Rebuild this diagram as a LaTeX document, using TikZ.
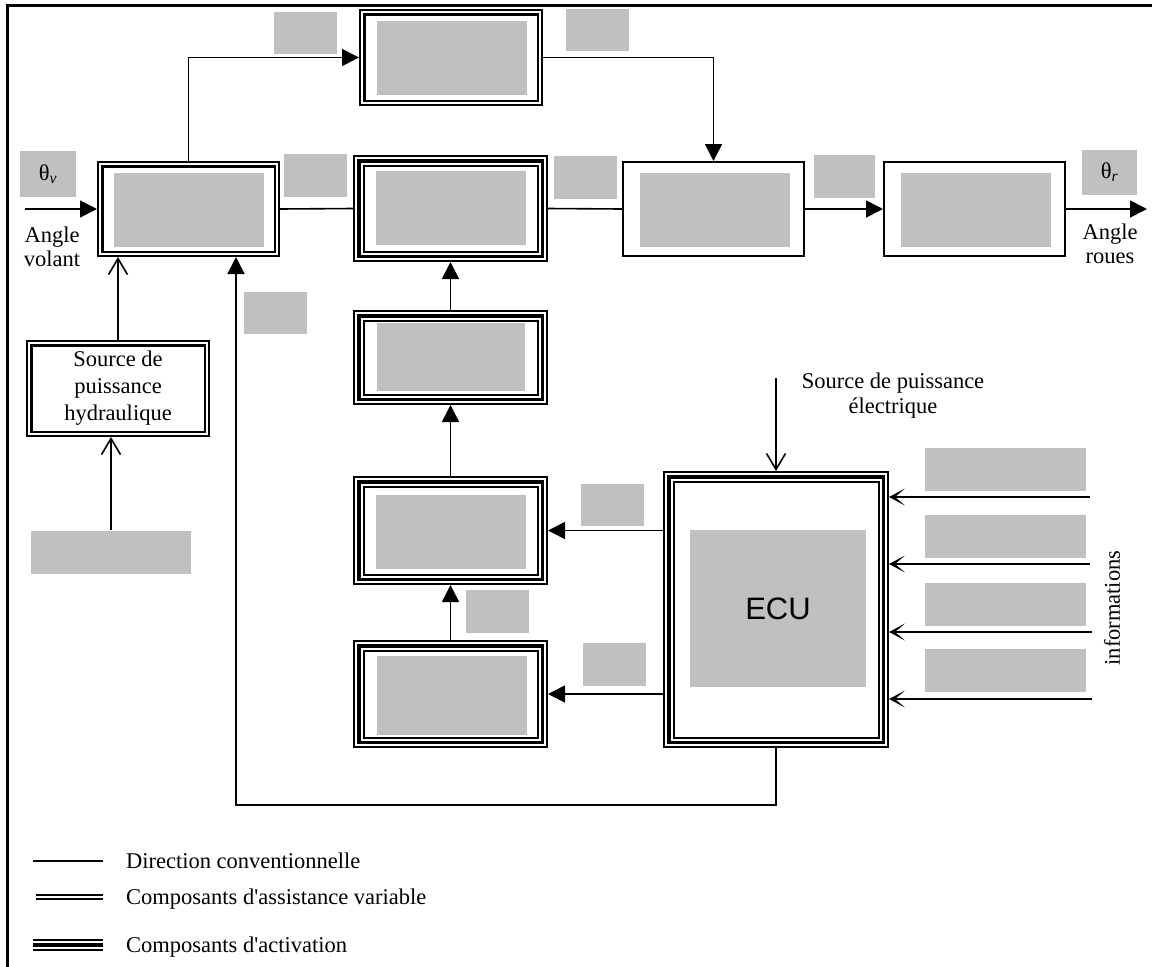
\documentclass[tikz,border=0pt]{standalone}
\usepackage{fontspec}
\setmainfont{Liberation Serif}
\newfontfamily\ecufont{Liberation Sans}
\usetikzlibrary{arrows.meta}
\definecolor{lgray}{RGB}{192,192,192}

\tikzstyle{dvl} = [line width=2.2pt, double=white, double distance=2pt]
\tikzstyle{actl} = [line width=3.5pt, preaction={draw, line width=2pt, double=white, double distance=7.5pt}]
\tikzstyle{conv} = [rectangle, draw=black, line width=2pt, inner sep=0pt]
\tikzstyle{dv} = [rectangle, draw=black, dvl, outer sep=3.3pt, inner sep=0pt]
\tikzstyle{act} = [rectangle, draw=black, actl, outer sep=5.75pt, inner sep=0pt]
\tikzstyle{gry} = [rectangle, fill=lgray, inner sep=0pt]
\tikzstyle{arr} = [-{Triangle[length=17pt,width=17pt]}]
\tikzstyle{barb} = [-{Straight Barb[length=16pt,width=19pt]}]
\tikzstyle{info} = [-{Stealth[length=16pt,width=17pt,inset=10pt]}]

\begin{document}
\begin{tikzpicture}[x=1pt, y=-1pt, line width=1.6pt, font=\fontsize{22.5}{24}\selectfont]
        \useasboundingbox (0,0) rectangle (1152,967);
        \draw[line width=3pt] (7,967) -- (7,5) -- (1152,5);
        % main chain
        \node[dv, minimum width=176.4pt, minimum height=89.4pt] (ctl) at (188.5,209) {};
        \node[gry, minimum width=150pt, minimum height=74pt] (ctlg) at (189,210) {};
        \node[dv, minimum width=177.4pt, minimum height=90.4pt] (b) at (451,57.5) {};
        \node[gry, minimum width=150pt, minimum height=74pt] (bg) at (452,58) {};
        \node[act, minimum width=183.5pt, minimum height=95.5pt] (e) at (450.5,208.5) {};
        \node[gry, minimum width=150pt, minimum height=74pt] (eg) at (451,208) {};
        \node[conv, minimum width=181pt, minimum height=94pt] (c) at (713.5,209) {};
        \node[gry, minimum width=150pt, minimum height=74pt] (cg) at (715,210) {};
        \node[conv, minimum width=181pt, minimum height=94pt] (d) at (974.5,209) {};
        \node[gry, minimum width=150pt, minimum height=74pt] (dg) at (976,210) {};
        % actuators
        \node[act, minimum width=183.5pt, minimum height=83.5pt] (f) at (450.5,357.5) {};
        \node[gry, minimum width=148pt, minimum height=68pt] (fg) at (451,357) {};
        \node[act, minimum width=183.5pt, minimum height=97.5pt] (g) at (450.5,530.5) {};
        \node[gry, minimum width=150pt, minimum height=74pt] (gg) at (451,532) {};
        \node[act, minimum width=183.5pt, minimum height=96.5pt] (h) at (450.5,694) {};
        \node[gry, minimum width=150pt, minimum height=79pt] (hg) at (452,695.5) {};
        \node[act, minimum width=214.5pt, minimum height=265.5pt] (ecu) at (776,609.5) {};
        \node[gry, minimum width=176pt, minimum height=157pt, font=\ecufont\fontsize{31}{31}\selectfont] (ecug) at (778,608.5) {ECU};
        % hydraulic source
        \node[dv, minimum width=177.4pt, minimum height=90.4pt, align=center, font=\fontsize{22.5}{27}\selectfont] (hyd) at (118,388.5) {Source de\\puissance\\hydraulique};
        \node[gry, minimum width=160pt, minimum height=43pt] (hsrc) at (111,552.5) {};
        % labels
        \node[gry, minimum width=56pt, minimum height=46pt] (tv) at (48,174) {θ\textsubscript{\itshape v}};
        \node[gry, minimum width=55pt, minimum height=45pt] (tr) at (1109.5,172.5) {θ\textsubscript{\itshape r}};
        \node[gry, minimum width=63pt, minimum height=42pt] (l1) at (305.5,33) {};
        \node[gry, minimum width=63pt, minimum height=42pt] (l2) at (597.5,30) {};
        \node[gry, minimum width=63pt, minimum height=43pt] (l3) at (315.5,175.5) {};
        \node[gry, minimum width=63pt, minimum height=43pt] (l4) at (585.5,177.5) {};
        \node[gry, minimum width=61pt, minimum height=43pt] (l5) at (844.5,176.5) {};
        \node[gry, minimum width=63pt, minimum height=42pt] (l6) at (275.5,313) {};
        \node[gry, minimum width=63pt, minimum height=42pt] (l7) at (612.5,505) {};
        \node[gry, minimum width=63pt, minimum height=43pt] (l8) at (497.5,611.5) {};
        \node[gry, minimum width=63pt, minimum height=43pt] (l9) at (614.5,664.5) {};
        \node[align=center] (avl) at (52,247) {Angle\\volant};
        \node[align=center] (arl) at (1110,244) {Angle\\roues};
        % informations
        \node[gry, minimum width=161pt, minimum height=43pt] (ig1) at (1005.5,469.5) {};
        \node[gry, minimum width=161pt, minimum height=43pt] (ig2) at (1005.5,536.5) {};
        \node[gry, minimum width=161pt, minimum height=43pt] (ig3) at (1005.5,604) {};
        \node[gry, minimum width=161pt, minimum height=43pt] (ig4) at (1005.5,670.5) {};
        \node[rotate=90] (infos) at (1112,608) {informations};
        \node[align=center, font=\fontsize{22.5}{25}\selectfont] (pwrt) at (893,396) {Source de puissance\\électrique};
        \coordinate (vin) at (25,209);
        \coordinate (vout) at (1147,209);
        \coordinate (pwr) at (776,378);
        \coordinate (fbk) at (236,805);
        \coordinate (in1) at (1090,497);
        \coordinate (in2) at (1090,564);
        \coordinate (in3) at (1092,632);
        \coordinate (in4) at (1092,699);
        \draw[arr] (vin) -- (ctl.west);
        \draw[arr] (ctl.north) |- (b.west);
        \draw[arr] (b.east) -| (c.north);
        \draw (ctl.east) -- (e.west);
        \draw (e.east) -- (c.west);
        \draw[arr] (c.east) -- (d.west);
        \draw[arr] (d.east) -- (vout);
        \draw[arr] (f.north) -- (e.south);
        \draw[arr] (g.north) -- (f.south);
        \draw[arr] (h.north) -- (g.south);
        \draw[arr] (ecu.west |- g.east) -- (g.east);
        \draw[arr] (ecu.west |- h.east) -- (h.east);
        \draw[arr] (ecu.south) |- (fbk) -- (fbk |- ctl.south);
        \draw[barb] (pwr) -- (ecu.north);
        \draw[barb] (hyd.north) -- (hyd.north |- ctl.south);
        \draw[barb] (hsrc.north) -- (hsrc.north |- hyd.south);
        \draw[info] (in1) -- (in1 -| ecu.east);
        \draw[info] (in2) -- (in2 -| ecu.east);
        \draw[info] (in3) -- (in3 -| ecu.east);
        \draw[info] (in4) -- (in4 -| ecu.east);
        % legend
        \draw (33,861) -- (103,861);
        \node[anchor=base west] (lg1) at (122,868) {Direction conventionnelle};
        \draw[line width=1.8pt, double=white, double distance=1.6pt] (36,897) -- (103,897);
        \node[anchor=base west] (lg2) at (122,904) {Composants d\textquotesingle assistance variable};
        \draw[actl] (33,945) -- (103,945);
        \node[anchor=base west] (lg3) at (122,952) {Composants d\textquotesingle activation};
\end{tikzpicture}
\end{document}
